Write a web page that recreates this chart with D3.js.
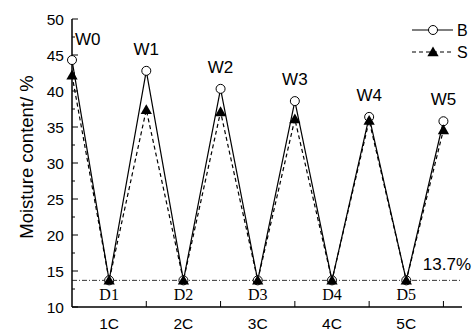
<!DOCTYPE html>
<html><head><meta charset="utf-8">
<script src="https://cdn.jsdelivr.net/npm/d3@7"></script>
<style>body{margin:0;background:#fff}svg{display:block}</style>
</head><body>
<script>
const pointLabels = ["W0","D1","W1","D2","W2","D3","W3","D4","W4","D5","W5"];
const seriesB = [44.3,13.7,42.8,13.7,40.3,13.7,38.6,13.7,36.4,13.7,35.8];
const seriesS = [42.2,13.7,37.4,13.7,37.1,13.7,36.1,13.7,35.9,13.7,34.6];
const cycleLabels = ["1C","2C","3C","4C","5C"];
const yTicks = [10,15,20,25,30,35,40,45,50];
const threshold = 13.7;

const W=474,H=335;
const svg=d3.select("body").append("svg").attr("width",W).attr("height",H);
const font="Liberation Sans, Arial, sans-serif";
const x=d3.scaleLinear().domain([0,10.5]).range([72,462]);
const y=d3.scaleLinear().domain([10,50]).range([307,19]);

// axes
svg.append("line").attr("x1",72).attr("x2",72).attr("y1",y(50)).attr("y2",y(10)).attr("stroke","#000").attr("stroke-width",1.5);
svg.append("line").attr("x1",72).attr("x2",x(10.5)).attr("y1",y(10)).attr("y2",y(10)).attr("stroke","#000").attr("stroke-width",1.5);
const minorY=d3.range(10,50.01,2.5);
svg.selectAll(".yt").data(minorY).enter().append("line")
 .attr("x1",72).attr("x2",d=>d%5===0?78:75).attr("y1",d=>y(d)).attr("y2",d=>y(d)).attr("stroke","#000").attr("stroke-width",1);
svg.selectAll(".yl").data(yTicks).enter().append("text")
 .attr("x",64).attr("y",d=>y(d)+5.5).attr("text-anchor","end").attr("font-family",font).attr("font-size",15.5).text(d=>d);
// x ticks at boundaries
svg.selectAll(".xt").data([2,4,6,8,10]).enter().append("line")
 .attr("x1",d=>x(d)).attr("x2",d=>x(d)).attr("y1",y(10)).attr("y2",y(10)-6).attr("stroke","#000").attr("stroke-width",1);
svg.selectAll(".xl").data(cycleLabels).enter().append("text")
 .attr("x",(d,i)=>x(2*i+1)).attr("y",329).attr("text-anchor","middle").attr("font-family",font).attr("font-size",15.5).text(d=>d);

svg.append("text").attr("transform","translate(33,157) rotate(-90)").attr("text-anchor","middle")
 .attr("font-family",font).attr("font-size",18.5).text("Moisture content/ %");

// threshold line
svg.append("line").attr("x1",72).attr("x2",x(10.5)).attr("y1",y(threshold)).attr("y2",y(threshold))
 .attr("stroke","#000").attr("stroke-width",0.8).attr("stroke-dasharray","5,2,1,2");
svg.append("text").attr("x",471).attr("y",270).attr("text-anchor","end").attr("font-family",font).attr("font-size",17).text(threshold+"%");

const line=d3.line().x((d,i)=>x(i)).y(d=>y(d));
svg.append("path").attr("d",line(seriesB)).attr("fill","none").attr("stroke","#000").attr("stroke-width",1.2);
svg.append("path").attr("d",line(seriesS)).attr("fill","none").attr("stroke","#000").attr("stroke-width",1.2).attr("stroke-dasharray","4,3");
svg.selectAll(".cb").data(seriesB).enter().append("circle").attr("cx",(d,i)=>x(i)).attr("cy",d=>y(d)).attr("r",4.5)
 .attr("fill","#fff").attr("stroke","#000").attr("stroke-width",1);
const tri=d3.symbol().type(d3.symbolTriangle).size(55);
svg.selectAll(".ts").data(seriesS).enter().append("path").attr("d",tri)
 .attr("transform",(d,i)=>`translate(${x(i)},${y(d)+1})`).attr("fill","#000");

// point labels
pointLabels.forEach((lab,i)=>{
  if(lab[0]==="W"){
    const dx = i===0?3:0;
    const yy = i===0?45:y(seriesB[i])-16;
    svg.append("text").attr("x",x(i)+dx).attr("y",yy).attr("text-anchor",i===0?"start":"middle")
      .attr("font-family",font).attr("font-size",17).text(lab);
  } else {
    svg.append("text").attr("x",x(i)).attr("y",300).attr("text-anchor","middle")
      .attr("font-family","Liberation Serif, Times New Roman, serif").attr("font-size",16).text(lab);
  }
});

// legend
const lg=[{n:"B",y:30,dash:null},{n:"S",y:52,dash:"4,3"}];
lg.forEach(l=>{
  svg.append("line").attr("x1",412).attr("x2",453).attr("y1",l.y).attr("y2",l.y).attr("stroke","#000").attr("stroke-width",1.2).attr("stroke-dasharray",l.dash);
  if(l.n==="B") svg.append("circle").attr("cx",433).attr("cy",l.y).attr("r",4.5).attr("fill","#fff").attr("stroke","#000");
  else svg.append("path").attr("d",tri).attr("transform",`translate(433,${l.y+1})`).attr("fill","#000");
  svg.append("text").attr("x",457).attr("y",l.y+6).attr("font-family",font).attr("font-size",16).text(l.n);
});
</script>
</body></html>
